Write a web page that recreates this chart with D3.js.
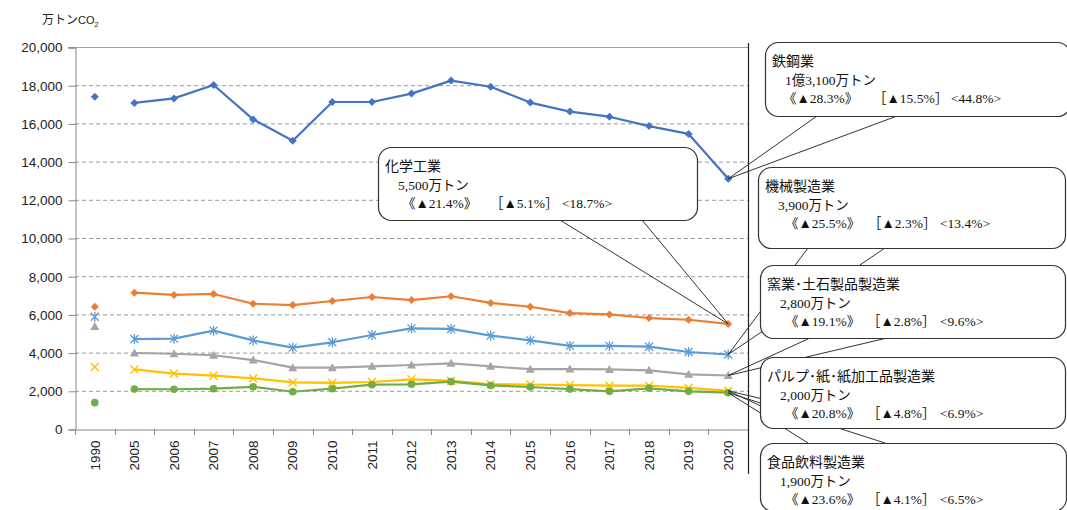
<!DOCTYPE html>
<html>
<head>
<meta charset="utf-8">
<script src="https://cdn.jsdelivr.net/npm/d3@7"></script>
<style>
  html, body { margin: 0; padding: 0; background: #fff; }
  svg { display: block; }
</style>
</head>
<body>
<svg id="chart" width="1067" height="510"></svg>
<script>
// 業種別 CO2 排出量の推移（万トンCO2）
const years = ["1990","2005","2006","2007","2008","2009","2010","2011","2012","2013","2014","2015","2016","2017","2018","2019","2020"];
const yTicks = [0, 2000, 4000, 6000, 8000, 10000, 12000, 14000, 16000, 18000, 20000];

const steel     = [17400, 17070, 17310, 18010, 16210, 15090, 17120, 17120, 17560, 18240, 17920, 17090, 16620, 16350, 15860, 15450, 13100];
const chemical  = [6400, 7140, 7020, 7070, 6560, 6490, 6700, 6910, 6750, 6950, 6600, 6400, 6070, 6000, 5810, 5720, 5500];
const machinery = [5880, 4710, 4730, 5150, 4640, 4260, 4540, 4920, 5270, 5240, 4890, 4640, 4350, 4350, 4310, 4030, 3900];
const ceramics  = [5360, 3980, 3940, 3860, 3610, 3210, 3210, 3280, 3350, 3440, 3280, 3130, 3140, 3120, 3070, 2860, 2800];
const pulp      = [3250, 3120, 2900, 2790, 2650, 2440, 2410, 2460, 2600, 2530, 2340, 2330, 2300, 2270, 2270, 2150, 2000];
const food      = [1380, 2090, 2080, 2110, 2210, 1950, 2110, 2320, 2340, 2480, 2280, 2200, 2090, 1970, 2130, 1970, 1900];

const seriesNames = ["鉄鋼業", "化学工業", "機械製造業", "窯業･土石製品製造業", "パルプ･紙･紙加工品製造業", "食品飲料製造業"];
const seriesValues = [steel, chemical, machinery, ceramics, pulp, food];
const amountLabels = ["1億3,100万トン", "5,500万トン", "3,900万トン", "2,800万トン", "2,000万トン", "1,900万トン"];
const changeVs1990 = ["《▲28.3%》", "《▲21.4%》", "《▲25.5%》", "《▲19.1%》", "《▲20.8%》", "《▲23.6%》"];
const changeVsPrev = ["［▲15.5%］", "［▲5.1%］", "［▲2.3%］", "［▲2.8%］", "［▲4.8%］", "［▲4.1%］"];
const shareLabels  = ["<44.8%>", "<18.7%>", "<13.4%>", "<9.6%>", "<6.9%>", "<6.5%>"];

// 描画スタイル
const colors  = ["#4472C4", "#ED7D31", "#5B9BD5", "#A5A5A5", "#FFC000", "#70AD47"];
const markers = ["diamond", "diamond", "asterisk", "triangle", "cross", "circle"];

// 吹き出しの配置: [left, top, width, height], 引き出し線の基点 (box-left からのオフセット) と辺,
// 3 行目の各項目の x オフセット
const calloutBoxes = [
  { box: [765, 42, 305, 74],  base: [52, 132],  edge: "bottom", cols: [18, 108, 186] },
  { box: [378, 147, 319, 73], base: [182, 264], edge: "bottom", cols: [24, 112, 184] },
  { box: [758, 167, 307, 81], base: [50, 127],  edge: "bottom", cols: [27, 110, 182] },
  { box: [760, 265, 305, 73], base: [50, 127],  edge: "bottom", cols: [25, 107, 180] },
  { box: [760, 357, 305, 71], base: [48, 125],  edge: "bottom", cols: [25, 107, 180] },
  { box: [760, 443, 306, 68], base: [48, 125],  edge: "top",    cols: [25, 107, 180] }
];

const svg = d3.select("#chart");
const plot = { left: 75, right: 748, top: 47, bottom: 429 };

const x = d3.scaleBand().domain(years).range([plot.left, plot.right]).paddingInner(0).paddingOuter(0);
const cx = d => x(d) + x.bandwidth() / 2;
const y = d3.scaleLinear().domain([0, 20000]).range([plot.bottom, plot.top]);

const axisFont = "'Liberation Sans', Arial, sans-serif";

// 単位
const unit = svg.append("text")
  .attr("x", 42).attr("y", 24)
  .attr("font-family", "'Noto Sans CJK JP', sans-serif")
  .attr("font-size", 12).attr("fill", "#222");
unit.append("tspan").text("万トン");
unit.append("tspan").attr("font-family", axisFont).attr("font-size", 11).text("CO");
unit.append("tspan").attr("font-family", axisFont).attr("font-size", 7).attr("dy", 3).text("2");

// 目盛線
svg.append("g").selectAll("line")
  .data(yTicks.filter(t => t > 0 && t < 20000))
  .join("line")
  .attr("x1", plot.left).attr("x2", plot.right)
  .attr("y1", d => y(d) + 0.5).attr("y2", d => y(d) + 0.5)
  .attr("stroke", "#9a9a9a").attr("stroke-width", 1)
  .attr("stroke-dasharray", "4,3");

// 上辺
svg.append("line")
  .attr("x1", plot.left - 7).attr("x2", plot.right)
  .attr("y1", y(20000) + 0.5).attr("y2", y(20000) + 0.5)
  .attr("stroke", "#a0a0a0");

// Y 軸
const yAxis = d3.axisLeft(y).tickValues(yTicks).tickSize(7).tickPadding(6)
  .tickFormat(d3.format(","));
const gy = svg.append("g").attr("transform", `translate(${plot.left + 0.5},0.5)`).call(yAxis);
gy.select(".domain").attr("stroke", "#868686");
gy.selectAll(".tick line").attr("stroke", "#868686");
gy.selectAll(".tick text").attr("font-family", axisFont).attr("font-size", 13.5).attr("fill", "#222");

// X 軸
const xAxis = d3.axisBottom(x).tickSize(0).tickSizeOuter(0);
const gx = svg.append("g").attr("transform", `translate(0,${plot.bottom + 0.5})`).call(xAxis);
gx.select(".domain").attr("stroke", "#868686");
gx.selectAll(".tick text")
  .attr("font-family", axisFont).attr("font-size", 13.5).attr("fill", "#222")
  .attr("transform", "rotate(-90)")
  .attr("text-anchor", "end")
  .attr("x", -11).attr("y", 0).attr("dy", "0.35em");
// カテゴリ境界の目盛
svg.append("g").selectAll("line")
  .data(years.concat(["_end"]))
  .join("line")
  .attr("x1", (d, i) => Math.round(plot.left + i * x.bandwidth()) + 0.5)
  .attr("x2", (d, i) => Math.round(plot.left + i * x.bandwidth()) + 0.5)
  .attr("y1", plot.bottom).attr("y2", plot.bottom + 6)
  .attr("stroke", "#868686");

// 右枠
svg.append("line")
  .attr("x1", plot.right + 0.5).attr("x2", plot.right + 0.5)
  .attr("y1", 43).attr("y2", 474)
  .attr("stroke", "#222").attr("stroke-width", 1.2);

// 系列の折れ線と マーカー
const line = d3.line().x(d => cx(d.year)).y(d => y(d.v));

function drawMarker(g, type, color, px, py) {
  if (type === "diamond") {
    g.append("path").attr("d", `M${px},${py - 4}L${px + 4},${py}L${px},${py + 4}L${px - 4},${py}Z`).attr("fill", color);
  } else if (type === "circle") {
    g.append("circle").attr("cx", px).attr("cy", py).attr("r", 3.8).attr("fill", color);
  } else if (type === "triangle") {
    g.append("path").attr("d", `M${px},${py - 4.5}L${px + 4.5},${py + 3.5}L${px - 4.5},${py + 3.5}Z`).attr("fill", color);
  } else if (type === "cross") {
    g.append("path").attr("d", `M${px - 4},${py - 4}L${px + 4},${py + 4}M${px - 4},${py + 4}L${px + 4},${py - 4}`)
      .attr("stroke", color).attr("stroke-width", 1.4).attr("fill", "none");
  } else if (type === "asterisk") {
    g.append("path").attr("d", `M${px - 4},${py - 4}L${px + 4},${py + 4}M${px - 4},${py + 4}L${px + 4},${py - 4}M${px},${py - 5}L${px},${py + 5}`)
      .attr("stroke", color).attr("stroke-width", 1.3).attr("fill", "none");
  }
}

seriesValues.forEach((vals, si) => {
  const pts = years.map((yr, i) => ({ year: yr, v: vals[i] }));
  const g = svg.append("g");
  // 1990 年は単独点, 2005 年以降を線で結ぶ
  g.append("path")
    .datum(pts.slice(1))
    .attr("d", line)
    .attr("fill", "none")
    .attr("stroke", colors[si])
    .attr("stroke-width", 2.2)
    .attr("stroke-linejoin", "round");
  pts.forEach(p => drawMarker(g, markers[si], colors[si], cx(p.year), y(p.v)));
});

// 吹き出し: 引き出し線
const lastYear = years[years.length - 1];
const leaders = svg.append("g");
calloutBoxes.forEach((c, i) => {
  const [bx, by, bw, bh] = c.box;
  const ey = c.edge === "bottom" ? by + bh : by;
  const tx = cx(lastYear), ty = y(seriesValues[i][years.length - 1]);
  c.base.forEach(off => {
    leaders.append("line")
      .attr("x1", bx + off).attr("y1", ey)
      .attr("x2", tx).attr("y2", ty)
      .attr("stroke", "#333").attr("stroke-width", 1);
  });
});

// 吹き出し: 本体と文字
const serif = "'Liberation Serif', 'Times New Roman', 'Noto Sans CJK JP', serif";
const sans = "'Noto Sans CJK JP', sans-serif";
calloutBoxes.forEach((c, i) => {
  const [bx, by, bw, bh] = c.box;
  const g = svg.append("g");
  g.append("rect")
    .attr("x", bx + 0.5).attr("y", by + 0.5).attr("width", bw).attr("height", bh)
    .attr("rx", 13).attr("ry", 13)
    .attr("fill", "#fff").attr("stroke", "#333").attr("stroke-width", 1.2);
  g.append("text")
    .attr("x", bx + 7).attr("y", by + 24)
    .attr("font-family", sans).attr("font-size", 14).attr("fill", "#111")
    .text(seriesNames[i]);
  g.append("text")
    .attr("x", bx + 20).attr("y", by + 43)
    .attr("font-family", serif).attr("font-size", 13.5).attr("fill", "#111")
    .text(amountLabels[i]);
  const t3 = by + 61;
  [changeVs1990[i], changeVsPrev[i], shareLabels[i]].forEach((s, k) => {
    g.append("text")
      .attr("x", bx + c.cols[k]).attr("y", t3)
      .attr("font-family", serif).attr("font-size", 13.5).attr("fill", "#111")
      .text(s);
  });
});
</script>
</body>
</html>
